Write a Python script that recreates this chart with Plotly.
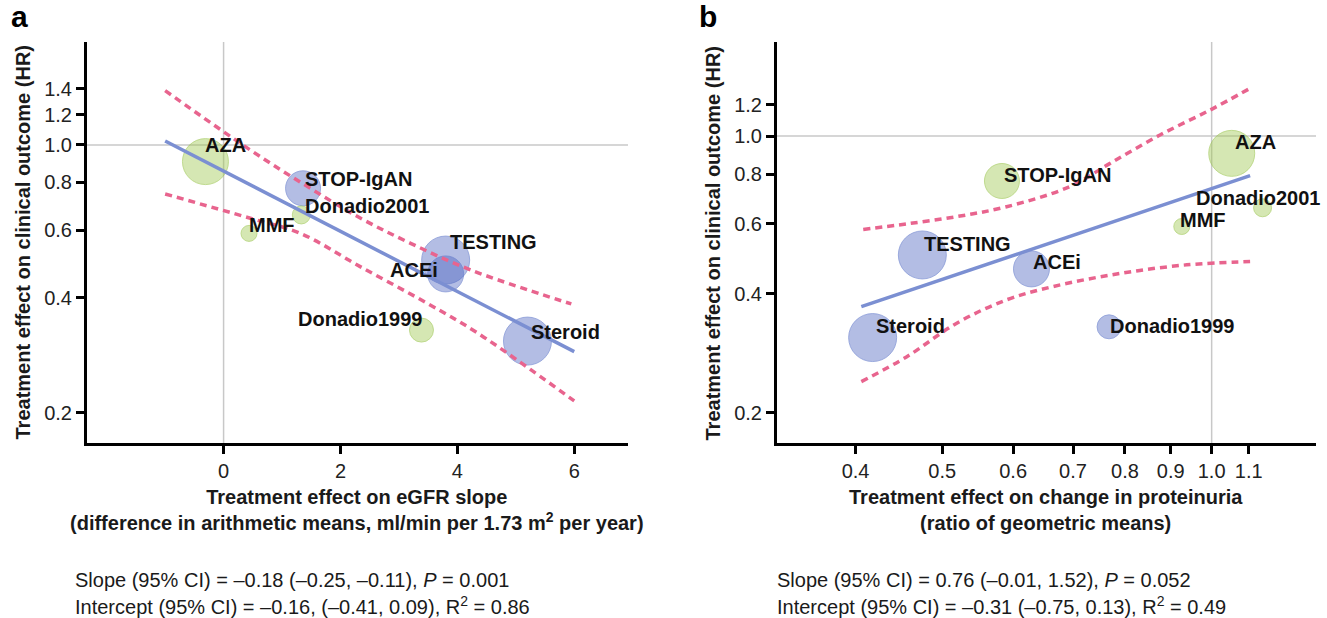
import numpy as np
import plotly.graph_objects as go

W, H = 1327, 618

# ---------------- data ----------------
studies = ["AZA", "STOP-IgAN", "Donadio2001", "MMF", "TESTING", "ACEi", "Donadio1999", "Steroid"]
egfr_slope_effect = [-0.31, 1.36, 1.33, 0.435, 3.80, 3.80, 3.386, 5.20]
hr_a = [0.905, 0.771, 0.657, 0.588, 0.501, 0.461, 0.329, 0.308]
proteinuria_ratio = [1.053, 0.583, 1.14, 0.926, 0.475, 0.629, 0.768, 0.418]
hr_b = [0.904, 0.770, 0.659, 0.591, 0.501, 0.462, 0.330, 0.310]
study_size = [47, 36, 19, 17, 49, 37, 25, 49]
group_a = ["green", "blue", "green", "green", "blue", "blue", "green", "blue"]
group_b = ["green", "green", "green", "green", "blue", "blue", "blue", "blue"]

fit_a_x = [-1.0, 6.0]
fit_a_y = [1.024, 0.289]
ci_a_upper_x = [-1.0, 0.458, 1.43, 2.345, 3.20, 4.23, 5.95]
ci_a_upper_y = [1.386, 0.970, 0.780, 0.644, 0.554, 0.472, 0.385]
ci_a_lower_x = [-1.0, 0.458, 1.316, 2.345, 3.49, 4.35, 6.0]
ci_a_lower_y = [0.745, 0.644, 0.588, 0.481, 0.386, 0.323, 0.215]

fit_b_x = [0.406, 1.104]
fit_b_y = [0.371, 0.794]
ci_b_upper_x = [0.408, 0.456, 0.519, 0.590, 0.694, 0.770, 0.8755, 0.996, 1.104]
ci_b_upper_y = [0.581, 0.600, 0.626, 0.663, 0.745, 0.853, 1.006, 1.163, 1.319]
ci_b_lower_x = [0.406, 0.456, 0.519, 0.590, 0.665, 0.790, 0.938, 1.104]
ci_b_lower_y = [0.240, 0.277, 0.337, 0.386, 0.417, 0.450, 0.473, 0.482]

yticks_a = [0.2, 0.4, 0.6, 0.8, 1.0, 1.2, 1.4]
yticks_b = [0.2, 0.4, 0.6, 0.8, 1.0, 1.2]
xticks_a = [0, 2, 4, 6]
xticks_b = [0.4, 0.5, 0.6, 0.7, 0.8, 0.9, 1.0, 1.1]

# ---------------- style ----------------
FONT = "Arial, Liberation Sans, Helvetica, sans-serif"
fill = {"green": "rgba(160,200,80,0.62)", "blue": "rgba(70,95,190,0.58)"}
edge = {"green": "rgba(150,195,70,0.8)", "blue": "rgba(90,115,200,0.8)"}
FIT_COLOR = "#7b8fd2"
CI_COLOR = "#e8648e"
GRID = "#c8c8c8"

# label placement: (anchor, dx px, dy px up)
lab_a = {"AZA": ("left", -2, 17), "STOP-IgAN": ("left", 0, 9), "Donadio2001": ("left", 2, 9),
         "MMF": ("left", -2, 8), "TESTING": ("left", 2, 18), "ACEi": ("right", -6, 4),
         "Donadio1999": ("right", 3, 11), "Steroid": ("left", 2, 9)}
lab_b = {"AZA": ("left", 1, 11), "STOP-IgAN": ("left", 0, 6), "Donadio2001": ("left", -69, 10),
         "MMF": ("left", -4, 7), "TESTING": ("left", 0, 11), "ACEi": ("left", 0, 7),
         "Donadio1999": ("left", -1, 1), "Steroid": ("left", 1, 12)}

xr_a = [-2.337, 6.92]
yr_a = [-0.7773, 0.2686]
xr_b = [-0.4857, 0.1166]
yr_b = [-0.7747, 0.2372]

fig = go.Figure()

def add_panel(xa, ya, xs, ys, groups, fx, fy, ux, uy, lx, ly, xr, yr, xlog, vline_x):
    xlo, xhi = (10 ** xr[0], 10 ** xr[1]) if xlog else (xr[0], xr[1])
    fig.add_trace(go.Scatter(x=[xlo, xhi], y=[1.0, 1.0], mode="lines", xaxis=xa, yaxis=ya,
                             line=dict(color=GRID, width=1.5), hoverinfo="skip", showlegend=False, cliponaxis=False))
    fig.add_trace(go.Scatter(x=[vline_x, vline_x], y=[10 ** yr[0], 10 ** yr[1]], mode="lines", xaxis=xa, yaxis=ya,
                             line=dict(color=GRID, width=1.5), hoverinfo="skip", showlegend=False, cliponaxis=False))
    fig.add_trace(go.Scatter(
        x=xs, y=ys, mode="markers", xaxis=xa, yaxis=ya, hovertext=studies, showlegend=False,
        marker=dict(size=[s - 1 for s in study_size], color=[fill[g] for g in groups],
                    line=dict(color=[edge[g] for g in groups], width=1))))
    fig.add_trace(go.Scatter(x=fx, y=fy, mode="lines", xaxis=xa, yaxis=ya, showlegend=False,
                             line=dict(color=FIT_COLOR, width=3.5)))
    for cx, cy in ((ux, uy), (lx, ly)):
        fig.add_trace(go.Scatter(x=cx, y=cy, mode="lines", xaxis=xa, yaxis=ya, showlegend=False,
                                 line=dict(color=CI_COLOR, width=3.5, dash="7px,5px", shape="spline")))

add_panel("x", "y", egfr_slope_effect, hr_a, group_a, fit_a_x, fit_a_y,
          ci_a_upper_x, ci_a_upper_y, ci_a_lower_x, ci_a_lower_y, xr_a, yr_a, False, 0)
add_panel("x2", "y2", proteinuria_ratio, hr_b, group_b, fit_b_x, fit_b_y,
          ci_b_upper_x, ci_b_upper_y, ci_b_lower_x, ci_b_lower_y, xr_b, yr_b, True, 1.0)

annotations = []
for i, s in enumerate(studies):
    anc, dx, dy = lab_a[s]
    annotations.append(dict(x=egfr_slope_effect[i], y=np.log10(hr_a[i]), xref="x", yref="y", text="<b>%s</b>" % s,
                            showarrow=False, xanchor=anc, yanchor="middle", xshift=dx, yshift=dy,
                            font=dict(family=FONT, size=20, color="#111")))
    anc, dx, dy = lab_b[s]
    annotations.append(dict(x=np.log10(proteinuria_ratio[i]), y=np.log10(hr_b[i]), xref="x2", yref="y2",
                            text="<b>%s</b>" % s, showarrow=False, xanchor=anc, yanchor="middle",
                            xshift=dx, yshift=dy, font=dict(family=FONT, size=20, color="#111")))

def px(x, y, text, size=20, anchor="center", angle=0, color="#1a1a1a"):
    annotations.append(dict(x=x / W, y=1 - y / H, xref="paper", yref="paper", text=text, showarrow=False,
                            xanchor=anchor, yanchor="middle", textangle=angle,
                            font=dict(family=FONT, size=size, color=color)))

px(19, 17, "<b>a</b>", size=30, color="#000")
px(708, 17, "<b>b</b>", size=30, color="#000")
ytitle = "<b>Treatment effect on clinical outcome (HR)</b>"
px(22.5, 242, ytitle, angle=-90)
px(712.5, 243, ytitle, angle=-90)
px(357, 510, "<b>Treatment effect on eGFR slope<br>(difference in arithmetic means, ml/min per 1.73 m<sup>2</sup> per year)</b>")
px(1046, 510, "<b>Treatment effect on change in proteinuria<br>(ratio of geometric means)</b>")
px(73, 580, "Slope (95% CI) = \u20130.18 (\u20130.25, \u20130.11), <i>P</i> = 0.001", anchor="left")
px(73, 605, "Intercept (95% CI) = \u20130.16, (\u20130.41, 0.09), R<sup>2</sup> = 0.86", anchor="left")
px(775, 580, "Slope (95% CI) = 0.76 (\u20130.01, 1.52), <i>P</i> = 0.052", anchor="left")
px(775, 605, "Intercept (95% CI) = \u20130.31 (\u20130.75, 0.13), R<sup>2</sup> = 0.49", anchor="left")

axis_common = dict(showline=True, linecolor="black", linewidth=3, ticks="outside", ticklen=8, tickwidth=3,
                   tickcolor="black", showgrid=False, zeroline=False,
                   tickfont=dict(family=FONT, size=20, color="#222"))
ydom = [1 - 443 / H, 1 - 42 / H]

fig.update_layout(
    width=W, height=H, margin=dict(l=0, r=0, t=0, b=0),
    paper_bgcolor="white", plot_bgcolor="white", showlegend=False,
    xaxis=dict(domain=[87 / W, 628 / W], range=xr_a, anchor="y", tickvals=xticks_a,
               ticktext=[str(v) for v in xticks_a], **axis_common),
    yaxis=dict(domain=ydom, type="log", range=yr_a, anchor="x", tickvals=yticks_a,
               ticktext=["%.1f" % v for v in yticks_a], **axis_common),
    xaxis2=dict(domain=[777 / W, 1316 / W], type="log", range=xr_b, anchor="y2", tickvals=xticks_b,
                ticktext=["%.1f" % v for v in xticks_b], **axis_common),
    yaxis2=dict(domain=ydom, type="log", range=yr_b, anchor="x2", tickvals=yticks_b,
                ticktext=["%.1f" % v for v in yticks_b], **axis_common),
    annotations=annotations,
)

fig.write_html("out.html", config={"displayModeBar": False},
               post_script="document.body.style.margin='0';document.body.style.overflow='hidden';")
